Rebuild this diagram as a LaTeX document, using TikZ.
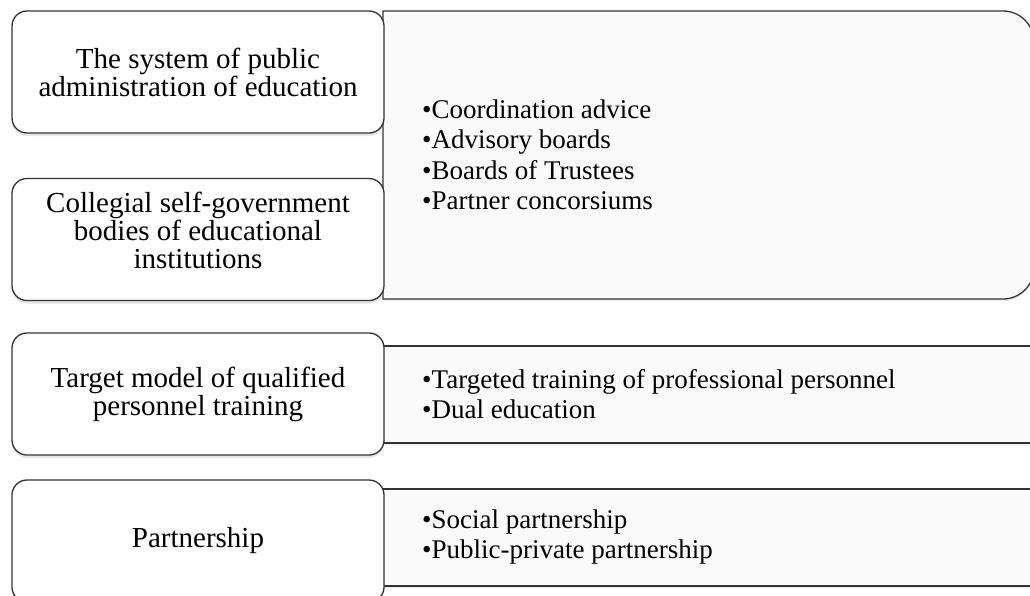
\documentclass[tikz,border=0pt]{standalone}
\usepackage{fontspec}
\setmainfont{Liberation Serif}
\colorlet{colorFrame}{black!80}
\colorlet{colorList}{black!2}
\usetikzlibrary{shadows}
\tikzset{
  levelbox/.style={draw=colorFrame, line width=1.3pt, fill=white, rounded corners=15pt,
    minimum width=372pt, minimum height=122pt, inner sep=0pt, align=center,
    font=\fontsize{29}{28}\selectfont,
    drop shadow={shadow xshift=0pt, shadow yshift=-3pt, opacity=.2}},
  formbox/.style={draw=colorFrame, line width=1.3pt, fill=colorList,
    drop shadow={shadow xshift=0pt, shadow yshift=-2pt, opacity=.15}},
  formlist/.style={anchor=west, align=left, inner sep=0pt, font=\fontsize{27}{30.5}\selectfont}
}

\begin{document}
\begin{tikzpicture}[x=1pt, y=-1pt]
\useasboundingbox (0,0) rectangle (1030,595);

% frames of the forms, the level boxes sit over their left edge
\draw[formbox] (383,299) -- (383,11) [rounded corners=31pt] -- (1034,11) -- (1034,299) [sharp corners] -- (383,299) -- cycle;
\draw[formbox] (383,346) rectangle (1040,443);
\draw[formbox] (383,489) rectangle (1040,586);

\node[formlist] (forms1) at (422,155) {•Coordination advice\\•Advisory boards\\•Boards of Trustees\\•Partner concorsiums};
\node[formlist] (forms2) at (422,394) {•Targeted training of professional personnel\\•Dual education};
\node[formlist] (forms3) at (422,537) {•Social partnership\\•Public-private partnership};

% levels
\node[levelbox] (admin) at (198,72) {The system of public\\administration of education};
\node[levelbox, text depth=18pt] (council) at (198,239.5) {Collegial self-government\\bodies of educational\\institutions};
\node[levelbox] (target) at (198,394) {Target model of qualified\\personnel training};
\node[levelbox] (partner) at (198,541) {Partnership};
\end{tikzpicture}
\end{document}
